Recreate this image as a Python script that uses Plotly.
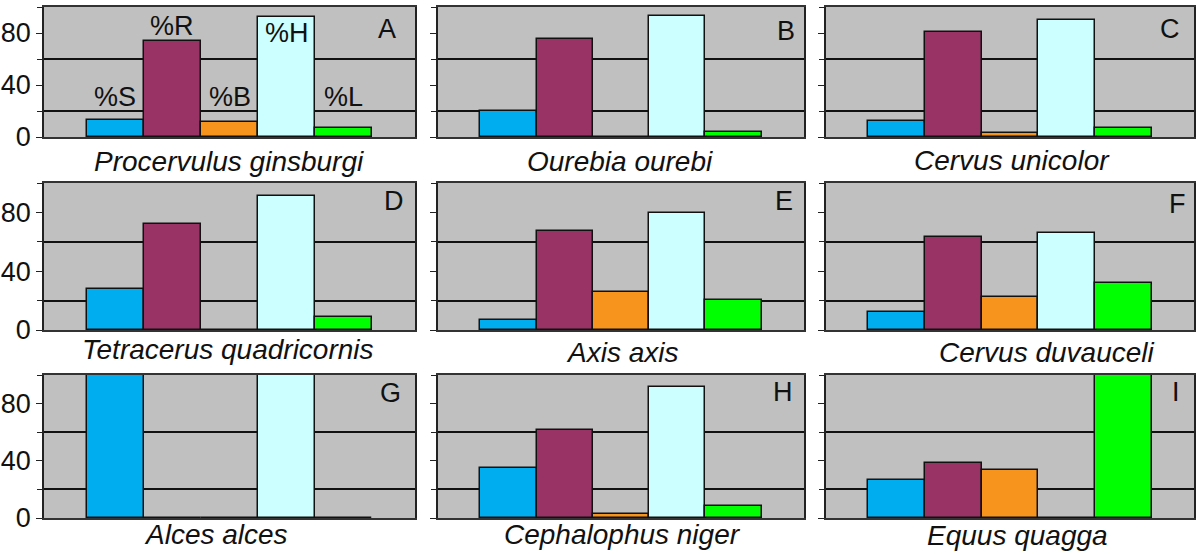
import plotly.graph_objects as go

categories = ["%S", "%R", "%B", "%H", "%L"]
bar_colors = ["#00AEEF", "#993366", "#F7941D", "#CCFFFF", "#00FF00"]

panel_letters = ["A", "B", "C", "D", "E", "F", "G", "H", "I"]
species = ["Procervulus ginsburgi", "Ourebia ourebi", "Cervus unicolor",
           "Tetracerus quadricornis", "Axis axis", "Cervus duvauceli",
           "Alces alces", "Cephalophus niger", "Equus quagga"]

vals_A = [13.4, 74, 11.4, 92, 7]
vals_B = [20, 75.5, 0, 93, 3.8]
vals_C = [12.5, 81, 3, 90, 7.3]
vals_D = [28, 72, 0, 91.5, 8.8]
vals_E = [6.7, 67.3, 25.7, 79.4, 20.2]
vals_F = [12, 63, 22.5, 66, 32]
vals_G = [100, 0, 0, 100, 0]
vals_H = [35, 61.5, 3, 91.5, 8.5]
vals_I = [26.5, 38.8, 33.8, 0, 100]
all_vals = [vals_A, vals_B, vals_C, vals_D, vals_E, vals_F, vals_G, vals_H, vals_I]

y_ticks = [0, 40, 80]

W = 1200
H = 569  # figure height; reference pixel rows are given on a 554-px scale
REF_H = 554
cols_px = [(44, 415), (438, 804), (826, 1194)]
rows_px = [(7, 137), (183, 330), (375, 518)]
letter_px = [(398, 29), (797, 31), (1182, 29), (406, 201), (795, 201),
             (1188, 204), (403, 393), (795, 392), (1182, 392)]
name_px = [(229, 162), (620, 162), (1012, 160), (228, 349), (622, 352),
           (1047, 352), (216, 534), (622, 534), (1017, 535)]


def py(v):
    """reference pixel row -> paper fraction"""
    return 1 - v / REF_H


FONT = "Liberation Sans, Arial, sans-serif"
fig = go.Figure()
annotations = []
xs = list(range(len(categories)))

for i, vals in enumerate(all_vals):
    r, c = divmod(i, 3)
    n = "" if i == 0 else str(i + 1)
    xa, ya = "x" + n, "y" + n
    fig.add_trace(go.Bar(
        x=xs, y=vals, width=1.0, xaxis=xa, yaxis=ya,
        marker=dict(color=bar_colors, line=dict(color="#111111", width=1.5)),
        showlegend=False, hoverinfo="y"))
    x0, x1 = cols_px[c]
    t, b = rows_px[r]
    fig.layout["xaxis" + n] = dict(
        domain=[x0 / W, x1 / W], range=[-1.25, 5.25], anchor=ya,
        showticklabels=False, showgrid=False, zeroline=False,
        showline=True, linecolor="#333333", linewidth=1.5, mirror=True,
        ticks="", fixedrange=True)
    fig.layout["yaxis" + n] = dict(
        domain=[py(b), py(t)], range=[0, 100], anchor=xa,
        tickvals=y_ticks, showticklabels=(c == 0),
        ticks="outside", ticklen=6, tickcolor="#222222", tickwidth=1.2,
        tickfont=dict(family=FONT, size=27, color="#111111"),
        showgrid=False, zeroline=False,
        showline=True, linecolor="#222222", linewidth=1.8, mirror=True,
        minor=dict(tick0=20, dtick=40, ticks="outside", ticklen=5,
                   tickcolor="#222222", showgrid=True,
                   gridcolor="#111111", gridwidth=1.5),
        fixedrange=True)
    lx, ly = letter_px[i]
    annotations.append(dict(
        text=panel_letters[i], xref="paper", yref="paper",
        x=lx / W, y=py(ly), xanchor="right", yanchor="middle",
        showarrow=False, font=dict(family=FONT, size=27, color="#111111")))
    nx, ny = name_px[i]
    annotations.append(dict(
        text="<i>" + species[i] + "</i>", xref="paper", yref="paper",
        x=nx / W, y=py(ny), xanchor="center", yanchor="middle",
        showarrow=False, font=dict(family=FONT, size=28, color="#111111")))

# category labels in panel A
label_y = [31, 85, 31, 80, 31]
for k, cat in enumerate(categories):
    annotations.append(dict(
        text=cat, x=xs[k], y=label_y[k], xref="x", yref="y",
        showarrow=False, yanchor="middle",
        font=dict(family=FONT, size=27, color="#111111")))

fig.update_layout(
    width=W, height=H, margin=dict(l=0, r=0, t=0, b=0),
    paper_bgcolor="white", plot_bgcolor="#C0C0C0",
    bargap=0, annotations=annotations)

fig.write_html(
    "out.html",
    config={"displayModeBar": False},
    post_script="document.body.style.margin='0';document.body.style.overflow='hidden';")
